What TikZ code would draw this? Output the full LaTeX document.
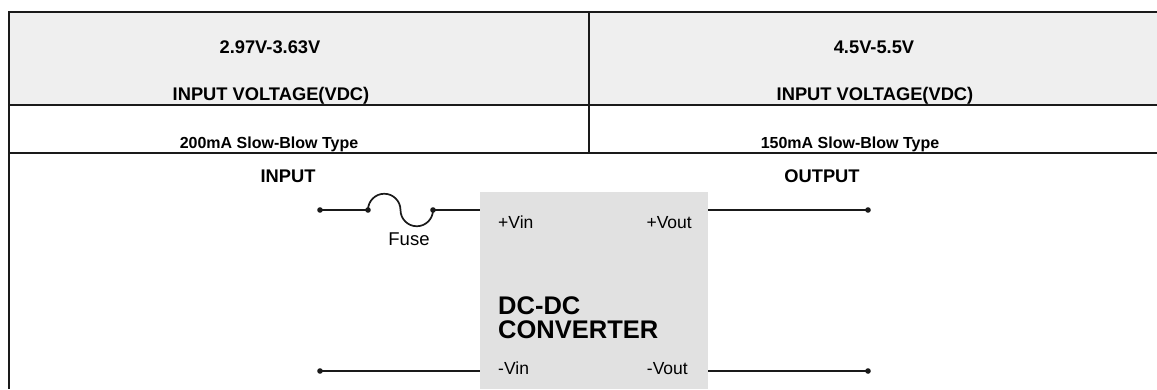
\documentclass[tikz,border=0pt]{standalone}
\usepackage{fontspec}
\setmainfont{Liberation Sans}
\usetikzlibrary{calc,positioning}
\definecolor{headgray}{HTML}{EFEFEF}
\definecolor{boxgray}{HTML}{E1E1E1}
\definecolor{wire}{HTML}{1A1A1A}

\begin{document}
\begin{tikzpicture}[x=1pt,y=-1pt,
    headtext/.style={font=\fontsize{18.3}{20}\selectfont\bfseries, inner sep=0pt, anchor=base},
    fusetext/.style={font=\fontsize{16}{18}\selectfont\bfseries, inner sep=0pt, anchor=base},
    pintext/.style={font=\fontsize{17.5}{19}\selectfont, inner sep=0pt},
    terminal/.style={circle, fill=wire, inner sep=0pt, minimum size=5.6pt},
    rule/.style={draw=wire, line width=1.8pt},
    wireline/.style={draw=wire, line width=1.7pt}]

  \useasboundingbox (0,0) rectangle (1157,389);
  \fill[white] (0,0) rectangle (1157,389);

  % table
  \fill[headgray] (9,12) rectangle (1157,105);
  \path[rule] (1157,12) -- (9,12) -- (9,389);
  \path[rule] (9,105) -- (1157,105) (9,153) -- (1157,153) (589,12) -- (589,153);

  \node[headtext] (vin_range_a) at (270,53) {2.97V-3.63V};
  \node[headtext] (vin_label_a) at (271,100) {INPUT VOLTAGE(VDC)};
  \node[headtext] (vin_range_b) at (874,53) {4.5V-5.5V};
  \node[headtext] (vin_label_b) at (875,100) {INPUT VOLTAGE(VDC)};
  \node[fusetext] (fuse_type_a) at (269,148) {200mA Slow-Blow Type};
  \node[fusetext] (fuse_type_b) at (850,148) {150mA Slow-Blow Type};

  \node[headtext] (input_label) at (288,182) {INPUT};
  \node[headtext] (output_label) at (822,182) {OUTPUT};

  % converter
  \node[fill=boxgray, minimum width=228, minimum height=197, inner sep=0pt] (conv) at (594,290.5) {};
  \node[pintext, anchor=base west] (pin_vin_p) at (498,228) {+Vin};
  \node[pintext, anchor=base east] (pin_vout_p) at (692,228) {+Vout};
  \node[pintext, anchor=base west] (pin_vin_n) at (498,374) {-Vin};
  \node[pintext, anchor=base east] (pin_vout_n) at (688,374) {-Vout};
  \node[font=\fontsize{25.5}{24}\selectfont\bfseries, align=left, inner sep=0pt,
        anchor=south west] (conv_label) at (498,339) {DC-DC\\CONVERTER};

  % terminals and fuse
  \node[terminal] (in_p) at (320,210) {};
  \node[terminal] (in_n) at (320,371) {};
  \node[terminal] (fuse_a) at (368,210) {};
  \node[terminal] (fuse_b) at (433,210) {};
  \node[terminal] (out_p) at (868,210) {};
  \node[terminal] (out_n) at (868,371) {};
  \node[font=\fontsize{18.5}{20}\selectfont, inner sep=0pt, anchor=base] (fuse_label) at (409,245) {Fuse};

  \path[wireline] (in_p.center) -- (fuse_a.center);
  \path[wireline] (fuse_a.center) arc[start angle=180, end angle=360, radius=16.25]
                                  arc[start angle=180, end angle=0, radius=16.25];
  \path[wireline] (fuse_b.center) -- (conv.west |- fuse_b);
  \path[wireline] (in_n.center) -- (conv.west |- in_n);
  \path[wireline] (conv.east |- out_p) -- (out_p.center);
  \path[wireline] (conv.east |- out_n) -- (out_n.center);

\end{tikzpicture}
\end{document}
